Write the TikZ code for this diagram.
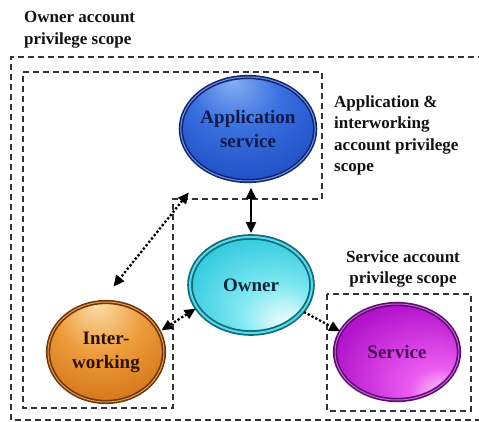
\documentclass[tikz,border=0pt]{standalone}
\usepackage{fontspec}
\setmainfont{Liberation Serif}
\usetikzlibrary{shapes.geometric,arrows.meta}
\definecolor{appL}{HTML}{86B0F4}
\definecolor{appM}{HTML}{3A70E0}
\definecolor{appD}{HTML}{1B48C0}
\definecolor{appE}{HTML}{132C80}
\definecolor{appRim}{HTML}{12246E}
\definecolor{appRing}{HTML}{6E9AEC}
\definecolor{appT}{HTML}{0E1A4C}
\definecolor{ownL}{HTML}{FFFFFF}
\definecolor{ownM}{HTML}{7FE8F2}
\definecolor{ownD}{HTML}{22C4DA}
\definecolor{ownE}{HTML}{0E9DB4}
\definecolor{ownRim}{HTML}{0B6E7C}
\definecolor{ownRing}{HTML}{5ED8E6}
\definecolor{ownT}{HTML}{0A2438}
\definecolor{intL}{HTML}{FBE2AE}
\definecolor{intM}{HTML}{EE9C3C}
\definecolor{intD}{HTML}{CC6C10}
\definecolor{intE}{HTML}{984606}
\definecolor{intRim}{HTML}{6E3404}
\definecolor{intRing}{HTML}{E7A050}
\definecolor{intT}{HTML}{2A1200}
\definecolor{svcL}{HTML}{FFFFFF}
\definecolor{svcM}{HTML}{EC5CF0}
\definecolor{svcD}{HTML}{B414CC}
\definecolor{svcE}{HTML}{7C0892}
\definecolor{svcRim}{HTML}{5A0A6C}
\definecolor{svcRing}{HTML}{D060E4}
\definecolor{svcT}{HTML}{4C065C}
\definecolor{boxgray}{HTML}{333333}
\definecolor{txt}{HTML}{111111}
\pgfdeclareradialshading{appshade}{\pgfpoint{-6bp}{24bp}}{color(0bp)=(appL); color(16bp)=(appM); color(38bp)=(appD); color(52bp)=(appE)}
\pgfdeclareradialshading{ownshade}{\pgfpoint{16bp}{-22bp}}{color(0bp)=(ownL); color(16bp)=(ownM); color(38bp)=(ownD); color(54bp)=(ownE)}
\pgfdeclareradialshading{intshade}{\pgfpoint{-4bp}{26bp}}{color(0bp)=(intL); color(18bp)=(intM); color(40bp)=(intD); color(54bp)=(intE)}
\pgfdeclareradialshading{svcshade}{\pgfpoint{22bp}{-26bp}}{color(0bp)=(svcL); color(12bp)=(svcM); color(34bp)=(svcD); color(54bp)=(svcE)}
\tikzset{Tri/.tip={Triangle[length=11pt,width=10pt]}}
\begin{document}
\begin{tikzpicture}[x=1pt,y=-1pt,
  ball/.style={ellipse, inner sep=0pt, align=center,
    font=\fontsize{19}{24}\selectfont\bfseries, line width=1.6pt, double distance=1pt},
  scopebox/.style={draw=boxgray, line width=1.3pt, dash pattern=on 6pt off 4pt},
  note/.style={inner sep=0pt, text=txt, font=\fontsize{17}{21.5}\selectfont\bfseries},
  dotline/.style={line width=2.3pt, dash pattern=on 2.3pt off 2pt, draw=black},
  solidline/.style={line width=2pt, draw=black}
]
\useasboundingbox (0,0) rectangle (479,422);
% scope boxes
\draw[scopebox] (484,57) -- (11,57) -- (11,420) -- (484,420);
\draw[scopebox] (23,72) -- (322,72) -- (322,199) -- (173,199) -- (173,408) -- (23,408) -- cycle;
\draw[scopebox] (327,294) rectangle (471,411);
% annotations
\node[note, anchor=north west, align=left] (ownnote) at (24,11.3) {Owner account\\privilege scope};
\node[note, anchor=north west, align=left] (appnote) at (334,95.5) {Application \&\\interworking\\account privilege\\scope};
\node[note, anchor=north, align=center] (svcnote) at (403,250.5) {Service account\\privilege scope};
% balls
\node[ball, draw=appRim, double=appRing, shading=appshade, text=appT,
  minimum width=110pt, minimum height=104pt] (app) at (248,129) {Application\\service};
\node[ball, draw=ownRim, double=ownRing, shading=ownshade, text=ownT,
  line width=1.8pt, double distance=2pt,
  minimum width=122pt, minimum height=96pt] (owner) at (251,285) {Owner};
\node[ball, draw=intRim, double=intRing, shading=intshade, text=intT,
  minimum width=116pt, minimum height=100pt] (inter) at (106,352) {Inter-\\working};
\node[ball, draw=svcRim, double=svcRing, shading=svcshade, text=svcT,
  minimum width=124pt, minimum height=96pt] (svc) at (397,352) {Service};
% connectors
\draw[solidline, Tri-Tri, shorten <=6pt, shorten >=3pt] (owner.north |- app.south) -- (owner.north);
\draw[dotline, Tri-Tri, shorten <=28pt, shorten >=19pt] (app.225) -- (inter.95);
\draw[dotline, Tri-Tri, shorten <=1pt, shorten >=2pt] (owner.203) -- (inter.21);
\draw[dotline, -Tri, shorten <=1pt, shorten >=0pt] (owner.333) -- (svc.160);
\end{tikzpicture}
\end{document}
